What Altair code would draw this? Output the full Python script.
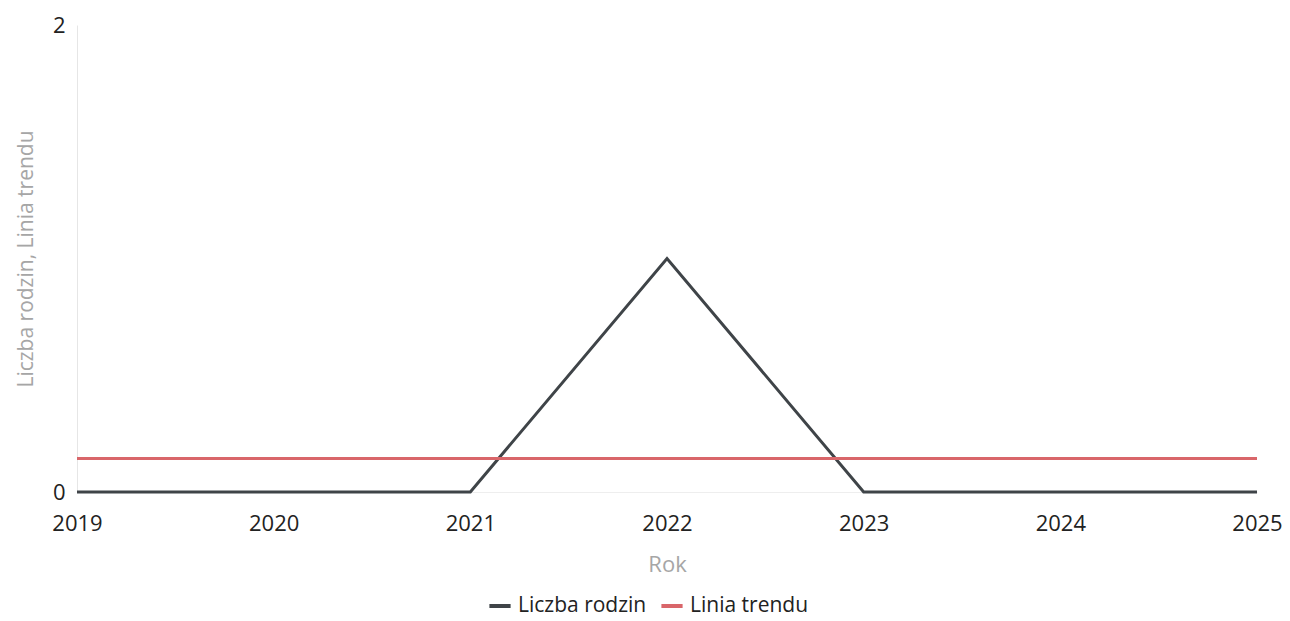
import altair as alt
import pandas as pd

years = [2019, 2020, 2021, 2022, 2023, 2024, 2025]
liczba_rodzin = [0, 0, 0, 1, 0, 0, 0]
linia_trendu = [0.143, 0.143, 0.143, 0.143, 0.143, 0.143, 0.143]
series_names = ["Liczba rodzin", "Linia trendu"]
series_colors = ["#3f4448", "#d9666a"]

rows = []
for y, v in zip(years, liczba_rodzin):
    rows.append({"Rok": y, "value": v, "series": series_names[0]})
for y, v in zip(years, linia_trendu):
    rows.append({"Rok": y, "value": v, "series": series_names[1]})
df = pd.DataFrame(rows)

FONT = "Open Sans"

chart = alt.Chart(df).mark_line(strokeWidth=3).encode(
    x=alt.X("Rok:Q", title="Rok",
            scale=alt.Scale(domain=[2019, 2025], nice=False, zero=False),
            axis=alt.Axis(values=years, format="d", labelFlush=False, grid=False,
                          ticks=False, domain=True, domainColor="#eeeeee",
                          labelFontSize=22, labelColor="#222222", labelPadding=21,
                          titleFontSize=22, titleColor="#a6a6a6", titleFontWeight="normal",
                          titlePadding=20, labelFont=FONT, titleFont=FONT)),
    y=alt.Y("value:Q", title="Liczba rodzin, Linia trendu",
            scale=alt.Scale(domain=[0, 2], nice=False),
            axis=alt.Axis(values=[0, 1, 2], format="d", grid=False, ticks=False,
                          domain=True, domainColor="#e6e6e6",
                          labelFontSize=22, labelColor="#222222", labelPadding=12,
                          titleFontSize=21, titleColor="#a6a6a6", titleFontWeight="normal",
                          titlePadding=16, labelFont=FONT, titleFont=FONT)),
    color=alt.Color("series:N", scale=alt.Scale(domain=series_names, range=series_colors),
                    legend=alt.Legend(orient="none", direction="horizontal", title=None,
                                      legendX=410, legendY=568,
                                      symbolType="stroke", symbolSize=450, symbolStrokeWidth=4,
                                      labelFontSize=21, labelColor="#222222", labelFont=FONT,
                                      columnPadding=6, symbolOffset=0, labelOffset=5)),
).properties(
    width=1180, height=467,
    autosize=alt.AutoSizeParams(type="none"),
    padding={"left": 69, "top": 17, "right": 25, "bottom": 128},
).configure_view(stroke=None)

chart.save("out.html", embed_options={"renderer": "svg", "actions": False})
